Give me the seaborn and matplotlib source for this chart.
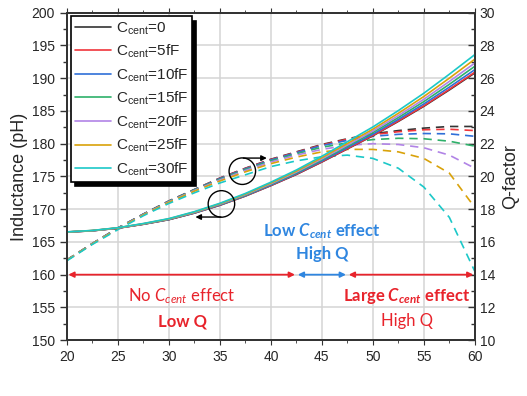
import numpy as np
import pandas as pd
import matplotlib
matplotlib.use('Agg')
import matplotlib.pyplot as plt
from matplotlib.patches import Ellipse
import seaborn as sns

#%% data
freq = [20, 22.5, 25, 27.5, 30, 32.5, 35, 37.5, 40, 42.5, 45, 47.5, 50, 52.5, 55, 57.5, 60]
caps = ['0', '5fF', '10fF', '15fF', '20fF', '25fF', '30fF']
colors = ['#333333', '#f0353b', '#2f6fd8', '#2eb06a', '#b184e6', '#d9a20a', '#1cc8c8']

# inductance (pH), solid lines
L_0 = [166.50, 166.70, 167.10, 167.70, 168.40, 169.40, 170.60, 172.00, 173.60, 175.30, 177.20, 179.20, 181.20, 183.40, 185.70, 188.20, 190.80]
L_5 = [166.50, 166.70, 167.10, 167.70, 168.41, 169.41, 170.61, 172.02, 173.62, 175.33, 177.24, 179.24, 181.25, 183.47, 185.78, 188.30, 190.91]
L_10 = [166.51, 166.71, 167.11, 167.72, 168.43, 169.44, 170.65, 172.07, 173.69, 175.42, 177.36, 179.40, 181.44, 183.70, 186.06, 188.63, 191.30]
L_15 = [166.51, 166.72, 167.13, 167.74, 168.46, 169.48, 170.71, 172.14, 173.79, 175.54, 177.52, 179.60, 181.69, 183.99, 186.42, 189.06, 191.81]
L_20 = [166.52, 166.73, 167.14, 167.76, 168.49, 169.52, 170.76, 172.22, 173.88, 175.67, 177.68, 179.79, 181.93, 184.29, 186.78, 189.50, 192.31]
L_25 = [166.52, 166.74, 167.15, 167.78, 168.52, 169.57, 170.83, 172.30, 173.99, 175.81, 177.86, 180.03, 182.21, 184.64, 187.20, 190.00, 192.90]
L_30 = [166.53, 166.75, 167.17, 167.81, 168.56, 169.62, 170.90, 172.40, 174.12, 175.98, 178.08, 180.30, 182.55, 185.05, 187.70, 190.60, 193.60]

# Q-factor, dashed lines
Q_0 = [14.90, 15.90, 16.85, 17.70, 18.50, 19.20, 19.90, 20.50, 21.05, 21.50, 21.95, 22.30, 22.60, 22.80, 22.95, 23.05, 23.05]
Q_5 = [14.90, 15.90, 16.85, 17.70, 18.50, 19.20, 19.89, 20.49, 21.03, 21.48, 21.92, 22.27, 22.55, 22.73, 22.85, 22.88, 22.80]
Q_10 = [14.90, 15.90, 16.85, 17.70, 18.49, 19.19, 19.87, 20.46, 21.00, 21.45, 21.88, 22.20, 22.45, 22.57, 22.62, 22.60, 22.45]
Q_15 = [14.90, 15.90, 16.84, 17.69, 18.48, 19.18, 19.83, 20.42, 20.95, 21.38, 21.78, 22.05, 22.25, 22.33, 22.30, 22.15, 21.85]
Q_20 = [14.89, 15.89, 16.82, 17.67, 18.45, 19.14, 19.78, 20.36, 20.88, 21.30, 21.65, 21.90, 22.00, 21.95, 21.75, 21.30, 20.50]
Q_25 = [14.88, 15.88, 16.80, 17.65, 18.42, 19.10, 19.72, 20.28, 20.78, 21.18, 21.50, 21.65, 21.65, 21.50, 21.10, 20.20, 18.10]
Q_30 = [14.85, 15.85, 16.75, 17.60, 18.35, 19.00, 19.60, 20.10, 20.60, 20.95, 21.20, 21.30, 21.10, 20.50, 19.35, 17.50, 14.20]

L_all = [L_0, L_5, L_10, L_15, L_20, L_25, L_30]
Q_all = [Q_0, Q_5, Q_10, Q_15, Q_20, Q_25, Q_30]

df = pd.concat([pd.DataFrame({'freq': freq, 'L': l, 'Q': q, 'cap': c})
                for l, q, c in zip(L_all, Q_all, caps)], ignore_index=True)

#%% style
sns.set_style('ticks')
plt.rcParams['font.family'] = ['Liberation Sans', 'DejaVu Sans']
plt.rcParams['mathtext.fontset'] = 'custom'
plt.rcParams['mathtext.rm'] = 'Lato'
plt.rcParams['mathtext.it'] = 'Lato:italic'
plt.rcParams['mathtext.bf'] = 'Lato:bold'
plt.rcParams['mathtext.bfit'] = 'Lato:bold:italic'

red = '#e8232b'
blue = '#2f86e0'
spine_c = '#333333'

fig = plt.figure(figsize=(5.27, 3.96), dpi=100)
ax2 = fig.add_axes([0.127, 0.141, 0.774, 0.827])
ax = ax2.twinx()
# left (inductance) axis drawn on top, Q axis underneath
ax.yaxis.tick_left()
ax.yaxis.set_label_position('left')
ax2.yaxis.tick_right()
ax2.yaxis.set_label_position('right')
ax.patch.set_visible(False)

sns.lineplot(data=df, x='freq', y='Q', hue='cap', hue_order=caps, palette=colors,
             ax=ax2, legend=False, lw=1.2)
for line in ax2.lines:
    line.set_dashes([5, 3.5])
sns.lineplot(data=df, x='freq', y='L', hue='cap', hue_order=caps, palette=colors,
             ax=ax, legend=False, lw=1.2)

# axes
ax.set_xlim(20, 60)
ax.set_ylim(150, 200)
ax2.set_ylim(10, 30)
ax.set_xticks(np.arange(20, 61, 5))
ax.set_xticks(np.arange(22.5, 60, 5), minor=True)
ax.set_yticks(np.arange(150, 201, 5))
ax.set_yticks(np.arange(152.5, 200, 5), minor=True)
ax2.set_yticks(np.arange(10, 31, 2))
ax2.set_yticks(np.arange(11, 30, 2), minor=True)
ax2.set_xticks(np.arange(20, 61, 5))

ax2.grid(True, color='#d4d4d4', lw=1.1)
ax.set_xlabel('Frequency (GHz)', fontsize=13, labelpad=5)
ax.set_ylabel('Inductance (pH)', fontsize=13, labelpad=3)
ax2.set_ylabel('Q-factor', fontsize=13, labelpad=5)
ax2.set_xlabel('')

ax.tick_params(axis='y', which='both', direction='out', labelsize=10, color=spine_c)
ax.tick_params(axis='y', which='major', length=5, width=1)
ax.tick_params(axis='y', which='minor', length=3, width=1)
ax2.tick_params(axis='x', which='both', direction='out', labelsize=10, color=spine_c,
                top=True, labeltop=False)
ax2.tick_params(axis='y', which='both', direction='in', labelsize=10, color=spine_c)
ax2.tick_params(axis='y', which='major', length=5, width=1)
ax2.tick_params(axis='y', which='minor', length=3, width=1)
ax.tick_params(axis='x', which='both', direction='out', labelsize=10, color=spine_c, length=4)
ax.tick_params(axis='x', which='minor', length=3)
for a in (ax, ax2):
    for s in a.spines.values():
        s.set_color(spine_c)
        s.set_linewidth(1.3)

# legend
handles = ax.lines[:len(caps)]
labels = [r'C$_{\mathregular{cent}}$=' + c for c in caps]
leg = ax.legend(handles, labels, loc='upper left', fontsize=11, frameon=True,
                fancybox=False, framealpha=1, edgecolor='black', borderaxespad=0.25,
                borderpad=0.25, labelspacing=0.4, handlelength=2.4, handletextpad=0.3,
                shadow={'ox': 3, 'oy': -3, 'facecolor': 'black', 'edgecolor': 'black', 'alpha': 1})
leg.get_frame().set_linewidth(1.2)
leg.set_zorder(20)

# circles + arrows
ax.add_patch(Ellipse((37.2, 175.8), 2.6, 4.05, fill=False, ec='black', lw=1.0, zorder=10))
ax.add_patch(Ellipse((35.15, 170.8), 2.6, 4.05, fill=False, ec='black', lw=1.0, zorder=10))
ax.annotate('', xy=(39.6, 177.8), xytext=(37.3, 177.8),
            arrowprops=dict(arrowstyle='-|>', color='black', lw=1.0, mutation_scale=8,
                            shrinkA=0, shrinkB=0))
ax.annotate('', xy=(32.6, 168.8), xytext=(35.1, 168.8),
            arrowprops=dict(arrowstyle='-|>', color='black', lw=1.0, mutation_scale=8,
                            shrinkA=0, shrinkB=0))

# region arrows
for x0, x1, c in [(20, 42.5, red), (42.5, 47.5, blue), (47.5, 60, red)]:
    ax.annotate('', xy=(x1, 160), xytext=(x0, 160),
                arrowprops=dict(arrowstyle='<|-|>', color=c, lw=1.3, mutation_scale=8,
                                shrinkA=1, shrinkB=1))

# region texts
tkw = dict(ha='center', va='center', family='Lato', fontsize=12)
ax.text(31.3, 156.7, r'No $C_{cent}$ effect', color=red, **tkw)
ax.text(31.3, 152.9, 'Low Q', color=red, fontweight='bold', **tkw)
ax.text(53.3, 156.7, r'Large $\mathbfit{C_{cent}}$ effect', color=red, fontweight='bold', **tkw)
ax.text(53.3, 152.9, 'High Q', color=red, **tkw)
ax.text(45.05, 166.6, r'Low $\mathbfit{C_{cent}}$ effect', color=blue, fontweight='bold', **tkw)
ax.text(45.05, 163.1, 'High Q', color=blue, fontweight='bold', **tkw)

plt.savefig('out.png', dpi=100)
